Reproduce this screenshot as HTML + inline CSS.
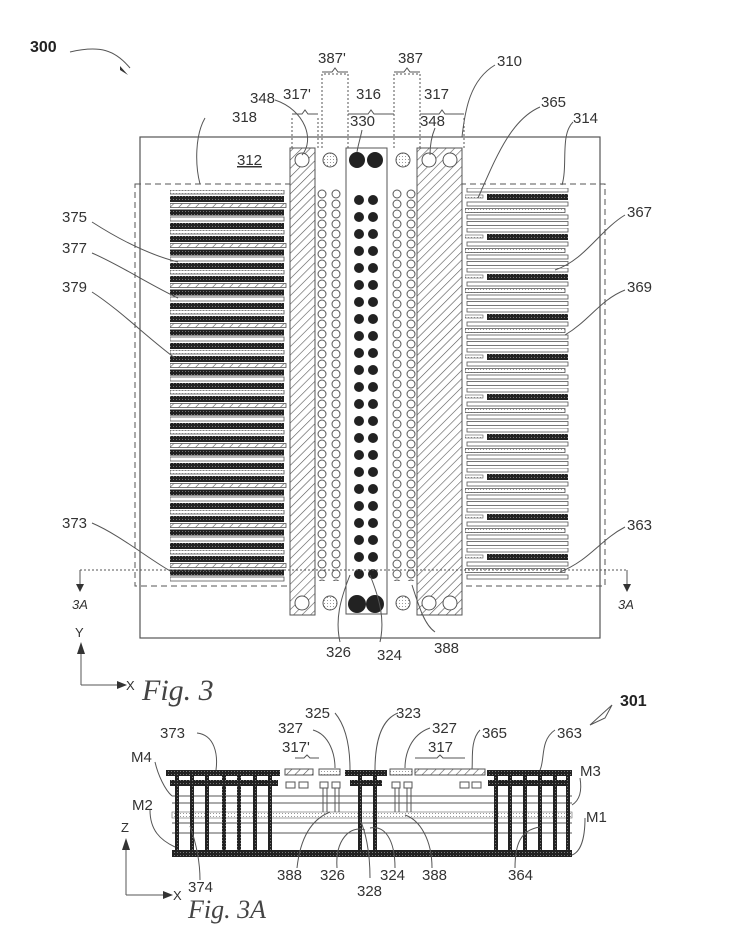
<!DOCTYPE html>
<html><head><meta charset="utf-8"><style>
html,body{margin:0;padding:0;background:#fff}
svg{display:block}
text{font-family:"Liberation Sans",sans-serif;font-size:15px;fill:#333}
.f{font-family:"Liberation Serif",serif;font-style:italic;font-size:30px;fill:#444}
</style></head><body>
<svg width="732" height="949" viewBox="0 0 732 949" xmlns="http://www.w3.org/2000/svg">
<defs>
<pattern id="hat" width="6" height="6" patternUnits="userSpaceOnUse" patternTransform="rotate(45)">
<rect width="6" height="6" fill="#fff"/><line x1="0" y1="0" x2="0" y2="6" stroke="#555" stroke-width="1.2"/></pattern>
<pattern id="blk" width="3" height="3" patternUnits="userSpaceOnUse"><rect width="3" height="3" fill="#222"/><rect width="1" height="1" fill="#777"/></pattern>
<pattern id="dot" width="3" height="3" patternUnits="userSpaceOnUse"><rect width="3" height="3" fill="#fff"/><rect width="1" height="1" fill="#999"/></pattern>
<pattern id="ocL" x="315" y="189" width="14" height="10" patternUnits="userSpaceOnUse">
<circle cx="7" cy="5" r="4" fill="#fff" stroke="#555" stroke-width="1"/></pattern>
<pattern id="ocR" x="390" y="189" width="14" height="10" patternUnits="userSpaceOnUse">
<circle cx="7" cy="5" r="4" fill="#fff" stroke="#555" stroke-width="1"/></pattern>
<pattern id="bcirc" x="352" y="193" width="14" height="17" patternUnits="userSpaceOnUse">
<circle cx="7" cy="7" r="5" fill="#222"/></pattern>
<pattern id="lf" x="170" y="190" width="120" height="40" patternUnits="userSpaceOnUse">
<rect x="0" y="0" width="114" height="4" fill="url(#dot)" stroke="#555" stroke-width=".8"/>
<rect x="0" y="6" width="114" height="6" fill="url(#blk)"/>
<rect x="0" y="13.5" width="116" height="4" fill="url(#hat)" stroke="#555" stroke-width=".8"/>
<rect x="0" y="19.5" width="114" height="6" fill="url(#blk)"/>
<rect x="0" y="27" width="114" height="4" fill="#fff" stroke="#555" stroke-width=".8"/>
<rect x="0" y="33" width="114" height="6" fill="url(#blk)"/>
</pattern>
<pattern id="rf" x="465" y="188" width="110" height="40" patternUnits="userSpaceOnUse">
<rect x="2" y="0" width="101" height="4" fill="#fff" stroke="#555" stroke-width=".8"/>
<rect x="0" y="7" width="18" height="3" fill="url(#dot)" stroke="#555" stroke-width=".6"/>
<rect x="22" y="6" width="81" height="6" fill="url(#blk)"/>
<rect x="2" y="14" width="101" height="4" fill="#fff" stroke="#555" stroke-width=".8"/>
<rect x="0" y="20.5" width="100" height="4" fill="url(#dot)" stroke="#555" stroke-width=".8"/>
<rect x="2" y="27" width="101" height="4" fill="#fff" stroke="#555" stroke-width=".8"/>
<rect x="2" y="33.5" width="101" height="4" fill="#fff" stroke="#555" stroke-width=".8"/>
</pattern>
</defs>

<!-- Fig 3 -->
<rect x="140" y="137" width="460" height="501" fill="none" stroke="#555" stroke-width="1.2"/>
<rect x="135" y="184" width="155" height="402" fill="none" stroke="#555" stroke-dasharray="6,4"/>
<rect x="460" y="184" width="145" height="402" fill="none" stroke="#555" stroke-dasharray="6,4"/>
<rect x="170" y="190" width="118" height="393" fill="url(#lf)"/>
<rect x="465" y="188" width="108" height="393" fill="url(#rf)"/>
<rect x="290" y="148" width="25" height="467" fill="url(#hat)" stroke="#555"/>
<rect x="417" y="148" width="45" height="467" fill="url(#hat)" stroke="#555"/>
<rect x="346" y="148" width="41" height="466" fill="#fff" stroke="#555"/>
<rect x="315" y="189" width="28" height="392" fill="url(#ocL)"/>
<rect x="390" y="189" width="28" height="392" fill="url(#ocR)"/>
<rect x="352" y="193" width="28" height="391" fill="url(#bcirc)"/>
<g stroke="#555" stroke-width="1">
<circle cx="302" cy="160" r="7" fill="#fff"/><circle cx="302" cy="603" r="7" fill="#fff"/>
<circle cx="330" cy="160" r="7" fill="url(#dot)"/><circle cx="330" cy="603" r="7" fill="url(#dot)"/>
<circle cx="403" cy="160" r="7" fill="url(#dot)"/><circle cx="403" cy="603" r="7" fill="url(#dot)"/>
<circle cx="429" cy="160" r="7" fill="#fff"/><circle cx="429" cy="603" r="7" fill="#fff"/>
<circle cx="450" cy="160" r="7" fill="#fff"/><circle cx="450" cy="603" r="7" fill="#fff"/>
</g>
<circle cx="357" cy="160" r="8" fill="#222"/><circle cx="375" cy="160" r="8" fill="#222"/>
<circle cx="357" cy="604" r="9" fill="#222"/><circle cx="375" cy="604" r="9" fill="#222"/>
<!-- section line -->
<line x1="80" y1="570" x2="627" y2="570" stroke="#555" stroke-dasharray="2,2"/>
<path d="M80 570 V585 M627 570 V585" stroke="#555"/>
<path d="M76 584 L80 592 L84 584Z M623 584 L627 592 L631 584Z" fill="#333"/>
<text x="72" y="609" style="font-style:italic;font-size:13px">3A</text>
<text x="618" y="609" style="font-style:italic;font-size:13px">3A</text>
<!-- braces / dashed -->
<g fill="none" stroke="#555" stroke-width="1">
<path d="M322 148 V74 H348 V148" stroke-dasharray="2,2"/>
<path d="M394 148 V74 H420 V148" stroke-dasharray="2,2"/>
<path d="M322 72 h10 l3 -4 l3 4 h10"/><path d="M394 72 h10 l3 -4 l3 4 h10"/>
<path d="M292 148 V116 M318 148 V116 M348 148 V120 M394 148 V120 M420 148 V116 M464 148 V116" stroke-dasharray="2,2"/>
<path d="M292 114 h10 l3 -4 l3 4 h10"/><path d="M348 114 h20 l3 -4 l3 4 h20"/><path d="M420 114 h19 l3 -4 l3 4 h19"/>
<path d="M70 52 C100 45 115 50 130 68"/>
<path d="M275 100 C305 110 315 140 302 155"/><path d="M362 130 C360 140 358 145 357 152"/><path d="M435 128 C430 140 430 150 430 155"/>
<path d="M205 118 C195 135 195 165 200 184"/><path d="M495 65 C470 80 465 110 462 137"/>
<path d="M540 107 C510 120 495 160 478 198"/><path d="M573 122 C560 135 568 165 562 185"/>
<path d="M92 222 C120 240 150 255 178 262"/><path d="M92 253 C120 265 150 285 178 298"/><path d="M92 292 C120 310 150 340 175 358"/>
<path d="M92 523 C120 535 150 560 172 572"/>
<path d="M625 215 C600 230 585 260 555 270"/><path d="M625 290 C600 300 590 320 565 335"/><path d="M625 527 C600 540 590 560 560 572"/>
<path d="M350 575 C340 600 335 620 340 642"/><path d="M370 575 C380 600 385 620 380 642"/><path d="M412 585 C420 610 425 625 435 632"/>
</g>
<path d="M120 66 L128 75 L120 70Z" fill="#333"/>
<text x="30" y="52" style="font-weight:bold;font-size:16px;fill:#222">300</text>
<text x="318" y="63">387'</text><text x="398" y="63">387</text>
<text x="497" y="66">310</text>
<text x="283" y="99">317'</text><text x="250" y="103">348</text>
<text x="356" y="99">316</text><text x="424" y="99">317</text>
<text x="232" y="122">318</text><text x="350" y="126">330</text><text x="420" y="126">348</text>
<text x="541" y="107">365</text><text x="573" y="123">314</text>
<text x="237" y="165" style="text-decoration:underline">312</text>
<text x="62" y="222">375</text><text x="62" y="253">377</text><text x="62" y="292">379</text><text x="62" y="528">373</text>
<text x="627" y="217">367</text><text x="627" y="292">369</text><text x="627" y="530">363</text>
<text x="326" y="657">326</text><text x="377" y="660">324</text><text x="434" y="653">388</text>
<!-- axes -->
<path d="M81 685 V652 M81 685 H119" stroke="#555" fill="none"/>
<path d="M77 654 L81 642 L85 654Z M117 681 L127 685 L117 689Z" fill="#333"/>
<text x="75" y="637" style="font-size:13px">Y</text><text x="126" y="690" style="font-size:13px">X</text>
<text x="142" y="700" class="f">Fig. 3</text>

<!-- Fig 3A -->
<text x="620" y="706" style="font-weight:bold;font-size:16px;fill:#222">301</text>
<path d="M590 725 L612 705 L605 718Z" fill="none" stroke="#555"/>
<g fill="none" stroke="#555">
<line x1="172" y1="796" x2="572" y2="796"/><line x1="172" y1="803" x2="572" y2="803"/>
<line x1="172" y1="823" x2="572" y2="823"/><line x1="172" y1="833" x2="572" y2="833"/>
</g>
<rect x="172" y="812" width="400" height="6" fill="url(#dot)" stroke="#666" stroke-width=".6"/>
<rect x="172" y="850" width="400" height="7" fill="url(#blk)"/>
<rect x="166" y="770" width="114" height="6" fill="url(#blk)"/>
<rect x="345" y="770" width="42" height="6" fill="url(#blk)"/>
<rect x="487" y="770" width="85" height="6" fill="url(#blk)"/>
<g fill="url(#blk)">
<rect x="175" y="776" width="4" height="74"/><rect x="190" y="776" width="4" height="74"/><rect x="205" y="776" width="4" height="74"/><rect x="222" y="776" width="4" height="74"/><rect x="237" y="776" width="4" height="74"/><rect x="253" y="776" width="4" height="74"/><rect x="268" y="776" width="4" height="74"/>
<rect x="358" y="776" width="4" height="74"/><rect x="373" y="776" width="4" height="74"/>
<rect x="494" y="776" width="4" height="74"/><rect x="508" y="776" width="4" height="74"/><rect x="523" y="776" width="4" height="74"/><rect x="538" y="776" width="4" height="74"/><rect x="553" y="776" width="4" height="74"/><rect x="566" y="776" width="4" height="74"/>
<rect x="170" y="780" width="108" height="6"/><rect x="350" y="780" width="32" height="6"/><rect x="488" y="780" width="82" height="6"/>
</g>
<rect x="285" y="769" width="28" height="6" fill="url(#hat)" stroke="#555"/>
<rect x="319" y="769" width="21" height="6" fill="url(#dot)" stroke="#555"/>
<rect x="390" y="769" width="22" height="6" fill="url(#dot)" stroke="#555"/>
<rect x="415" y="769" width="70" height="6" fill="url(#hat)" stroke="#555"/>
<g stroke="#555" fill="#fff">
<rect x="286" y="782" width="9" height="6"/><rect x="299" y="782" width="9" height="6"/>
<rect x="320" y="782" width="8" height="6"/><rect x="332" y="782" width="8" height="6"/>
<rect x="392" y="782" width="8" height="6"/><rect x="404" y="782" width="8" height="6"/>
<rect x="460" y="782" width="9" height="6"/><rect x="472" y="782" width="9" height="6"/>
<line x1="323" y1="788" x2="323" y2="812"/><line x1="327" y1="788" x2="327" y2="812"/><line x1="335" y1="788" x2="335" y2="812"/><line x1="339" y1="788" x2="339" y2="812"/>
<line x1="395" y1="788" x2="395" y2="812"/><line x1="399" y1="788" x2="399" y2="812"/><line x1="407" y1="788" x2="407" y2="812"/><line x1="411" y1="788" x2="411" y2="812"/>
</g>
<g fill="none" stroke="#555">
<path d="M295 758 h9 l3 -3 l3 3 h9"/><path d="M415 758 h22 l3 -3 l3 3 h22"/>
<path d="M197 733 C215 735 218 755 216 770"/><path d="M313 730 C330 735 335 755 335 768"/>
<path d="M335 713 C345 725 350 745 350 770"/><path d="M398 713 C380 720 375 745 375 770"/>
<path d="M430 728 C410 735 405 755 405 768"/><path d="M480 730 C470 740 473 760 472 769"/><path d="M555 730 C540 740 545 760 540 770"/>
<path d="M155 762 C158 775 165 790 172 796"/><path d="M150 810 C150 830 160 840 175 847"/>
<path d="M580 778 C582 790 580 800 572 805"/><path d="M585 818 C585 840 580 852 572 855"/>
<path d="M200 880 C200 860 195 840 190 826"/><path d="M297 868 C300 840 310 820 330 812"/><path d="M337 868 C335 840 350 825 365 830"/>
<path d="M370 878 C370 850 365 830 360 820"/><path d="M395 868 C395 840 385 825 370 828"/><path d="M432 868 C432 840 420 820 405 815"/>
<path d="M515 868 C515 845 520 830 540 827"/>
</g>
<text x="160" y="738">373</text><text x="278" y="733">327</text><text x="282" y="752">317'</text>
<text x="305" y="718">325</text><text x="396" y="718">323</text>
<text x="432" y="733">327</text><text x="428" y="752">317</text>
<text x="482" y="738">365</text><text x="557" y="738">363</text>
<text x="131" y="762">M4</text><text x="132" y="810">M2</text>
<text x="580" y="776">M3</text><text x="586" y="822">M1</text>
<text x="188" y="892">374</text><text x="277" y="880">388</text><text x="320" y="880">326</text>
<text x="357" y="896">328</text><text x="380" y="880">324</text><text x="422" y="880">388</text><text x="508" y="880">364</text>
<path d="M126 895 V848 M126 895 H165" stroke="#555" fill="none"/>
<path d="M122 850 L126 838 L130 850Z M163 891 L173 895 L163 899Z" fill="#333"/>
<text x="121" y="832" style="font-size:13px">Z</text><text x="173" y="900" style="font-size:13px">X</text>
<text x="188" y="918" class="f" style="font-size:26px">Fig. 3A</text>
</svg>
</body></html>
